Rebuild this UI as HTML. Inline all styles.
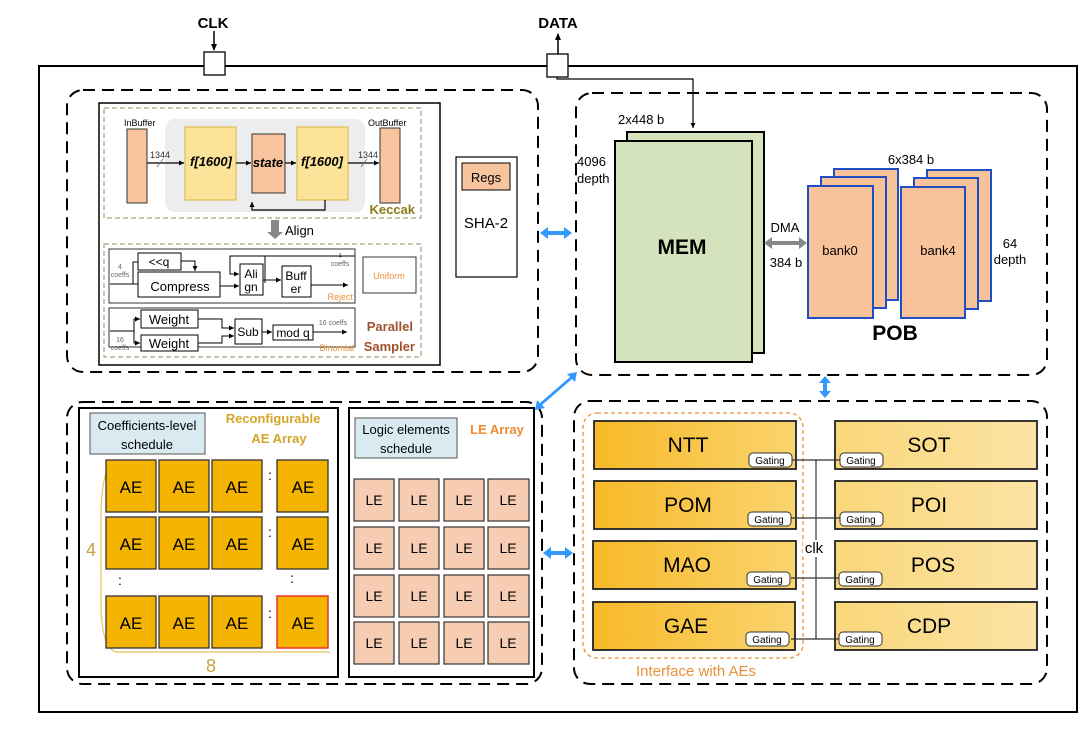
<!DOCTYPE html>
<html><head><meta charset="utf-8"><style>
html,body{margin:0;padding:0;background:#fff;}
svg{display:block;font-family:"Liberation Sans",Arial,sans-serif;}
</style></head><body>
<svg width="1080" height="729" viewBox="0 0 1080 729" xmlns="http://www.w3.org/2000/svg">
<defs>
<marker id="ah" markerWidth="8" markerHeight="8" refX="6" refY="3" orient="auto" markerUnits="userSpaceOnUse"><path d="M0,0 L7,3 L0,6 Z" fill="#000"/></marker>
<marker id="ahs" markerWidth="6" markerHeight="6" refX="5" refY="2.5" orient="auto" markerUnits="userSpaceOnUse"><path d="M0,0 L5,2.5 L0,5 Z" fill="#000"/></marker>
<linearGradient id="gy" x1="0" x2="1"><stop offset="0" stop-color="#F7B928"/><stop offset="1" stop-color="#FAD46E"/></linearGradient>
<linearGradient id="gy2" x1="0" x2="1"><stop offset="0" stop-color="#F9D77A"/><stop offset="1" stop-color="#FCE3A4"/></linearGradient>
</defs>

<!-- outer -->
<rect x="39" y="66" width="1038" height="646" fill="none" stroke="#000" stroke-width="2"/>
<text x="213" y="28" font-size="15" font-weight="bold" text-anchor="middle">CLK</text>
<line x1="214" y1="31" x2="214" y2="50" stroke="#000" stroke-width="1.5" marker-end="url(#ah)"/>
<rect x="204" y="52" width="21" height="23" fill="#fff" stroke="#000" stroke-width="1.3"/>
<text x="558" y="28" font-size="15" font-weight="bold" text-anchor="middle">DATA</text>
<line x1="558" y1="54" x2="558" y2="34" stroke="#000" stroke-width="1.5" marker-end="url(#ah)"/>
<rect x="547" y="54" width="21" height="23" fill="#fff" stroke="#000" stroke-width="1.3"/>
<polyline points="557,77 557,79 693,79 693,128" fill="none" stroke="#000" stroke-width="1.2" marker-end="url(#ahs)"/>

<!-- dashed regions -->
<g fill="none" stroke="#000" stroke-width="2" stroke-dasharray="12,7">
<rect x="67" y="90" width="471" height="282" rx="16"/>
<rect x="576" y="93" width="471" height="282" rx="16"/>
<rect x="67" y="402" width="475" height="282" rx="16"/>
<rect x="574" y="401" width="473" height="283" rx="16"/>
</g>

<!-- blue arrows -->
<g fill="#3399FF">
<path d="M540,233 l8,-6 v4 h16 v-4 l8,6 l-8,6 v-4 h-16 v4 z"/>
<path d="M535,410 l2,-10 l3,3 l30,-26 l-3,-3 l10,-2 l-2,10 l-3,-3 l-30,26 l3,3 z"/>
<path d="M825,376 l6,7 h-4 v8 h4 l-6,7 l-6,-7 h4 v-8 h-4 z"/>
<path d="M543,553 l8,-6 v4 h14 v-4 l8,6 l-8,6 v-4 h-14 v4 z"/>
</g>

<!-- Keccak / sampler -->
<rect x="99" y="103" width="341" height="262" fill="#fff" stroke="#000" stroke-width="1.5"/>
<rect x="104" y="108" width="317" height="110" fill="none" stroke="#9A8A5A" stroke-dasharray="5,3"/>
<rect x="165" y="119" width="200" height="93" rx="10" fill="#EDEDED"/>
<rect x="127" y="129" width="20" height="74" fill="#F7C49E" stroke="#333"/>
<text x="124" y="126" font-size="9">InBuffer</text>
<rect x="185" y="127" width="51" height="73" fill="#FBE39A" stroke="#D9B43A"/>
<rect x="252" y="134" width="33" height="59" fill="#F7C49E" stroke="#333"/>
<rect x="297" y="127" width="51" height="73" fill="#FBE39A" stroke="#D9B43A"/>
<rect x="380" y="128" width="20" height="75" fill="#F7C49E" stroke="#333"/>
<text x="368" y="126" font-size="9">OutBuffer</text>
<text x="211" y="166" font-size="13" font-weight="bold" font-style="italic" text-anchor="middle">f[1600]</text>
<text x="268" y="167" font-size="13" font-weight="bold" font-style="italic" text-anchor="middle">state</text>
<text x="322" y="166" font-size="13" font-weight="bold" font-style="italic" text-anchor="middle">f[1600]</text>
<g stroke="#000" stroke-width="1.2" fill="none">
<line x1="147" y1="163" x2="184" y2="163" marker-end="url(#ahs)"/>
<line x1="236" y1="163" x2="251" y2="163" marker-end="url(#ahs)"/>
<line x1="285" y1="163" x2="296" y2="163" marker-end="url(#ahs)"/>
<line x1="348" y1="163" x2="379" y2="163" marker-end="url(#ahs)"/>
<polyline points="325,200 325,210 252,210 252,202" marker-end="url(#ahs)"/>
<line x1="157" y1="167" x2="163" y2="159" stroke="#666" stroke-width="0.8"/>
<line x1="361" y1="167" x2="367" y2="159" stroke="#666" stroke-width="0.8"/>
</g>
<text x="150" y="158" font-size="9" fill="#333">1344</text>
<text x="358" y="158" font-size="9" fill="#333">1344</text>
<text x="415" y="214" font-size="13" font-weight="bold" fill="#8B7A1A" text-anchor="end">Keccak</text>
<path d="M271,220 h8 v12 h4 l-8,7 l-8,-7 h4 z" fill="#888"/>
<text x="285" y="235" font-size="13">Align</text>

<rect x="104" y="244" width="317" height="113" fill="none" stroke="#9A8A5A" stroke-dasharray="5,3"/>
<rect x="109" y="249" width="246" height="54" fill="#fff" stroke="#333"/>
<rect x="109" y="308" width="246" height="39" fill="#fff" stroke="#333"/>
<rect x="363" y="257" width="53" height="36" fill="#fff" stroke="#333"/>
<text x="389" y="279" font-size="9" fill="#E8913A" text-anchor="middle">Uniform</text>
<g fill="#fff" stroke="#000" stroke-width="1">
<rect x="138" y="253" width="43" height="17"/>
<rect x="138" y="272" width="82" height="25"/>
<rect x="240" y="264" width="23" height="31"/>
<rect x="282" y="266" width="29" height="31"/>
<rect x="141" y="310" width="57" height="18"/>
<rect x="141" y="335" width="57" height="16"/>
<rect x="235" y="319" width="27" height="25"/>
<rect x="273" y="325" width="40" height="15"/>
</g>
<text x="159" y="266" font-size="12" text-anchor="middle">&lt;&lt;q</text>
<text x="180" y="291" font-size="13" text-anchor="middle">Compress</text>
<text x="251" y="278" font-size="12" text-anchor="middle">Ali</text>
<text x="251" y="291" font-size="12" text-anchor="middle">gn</text>
<text x="296" y="280" font-size="12" text-anchor="middle">Buff</text>
<text x="296" y="293" font-size="12" text-anchor="middle">er</text>
<text x="169" y="324" font-size="13" text-anchor="middle">Weight</text>
<text x="169" y="348" font-size="13" text-anchor="middle">Weight</text>
<text x="248" y="336" font-size="12" text-anchor="middle">Sub</text>
<text x="293" y="337" font-size="12" text-anchor="middle">mod q</text>
<g stroke="#000" stroke-width="1" fill="none">
<polyline points="110,284 138,284"/>
<polyline points="133,284 133,262 138,262"/>
<polyline points="181,261 195,261 195,271" marker-end="url(#ahs)"/>
<polyline points="220,286 239,286" marker-end="url(#ahs)"/>
<polyline points="265,283 265,256 355,256 355,256"/>
<polyline points="265,256 230,256 230,274 239,274" marker-end="url(#ahs)"/>
<polyline points="263,280 281,280" marker-end="url(#ahs)"/>
<polyline points="311,285 348,285" marker-end="url(#ahs)"/>
<polyline points="110,331 134,331 134,319 140,319" marker-end="url(#ahs)"/>
<polyline points="134,331 134,343 140,343" marker-end="url(#ahs)"/>
<polyline points="198,319 222,319 222,328 234,328" marker-end="url(#ahs)"/>
<polyline points="198,343 222,343 222,336 234,336" marker-end="url(#ahs)"/>
<polyline points="262,332 272,332" marker-end="url(#ahs)"/>
<polyline points="313,332 347,332" marker-end="url(#ahs)"/>
</g>
<text x="120" y="269" font-size="7" fill="#666" text-anchor="middle">4</text>
<text x="120" y="277" font-size="7" fill="#666" text-anchor="middle">coeffs</text>
<text x="340" y="258" font-size="7" fill="#666" text-anchor="middle">4</text>
<text x="340" y="266" font-size="7" fill="#666" text-anchor="middle">coeffs</text>
<text x="353" y="300" font-size="9" fill="#E8913A" text-anchor="end">Reject</text>
<text x="120" y="342" font-size="7" fill="#666" text-anchor="middle">16</text>
<text x="120" y="350" font-size="7" fill="#666" text-anchor="middle">coeffs</text>
<text x="333" y="325" font-size="7" fill="#666" text-anchor="middle">16 coeffs</text>
<text x="354" y="351" font-size="9" fill="#E8913A" text-anchor="end">Binomial</text>
<text x="413" y="331" font-size="13" font-weight="bold" fill="#A0522D" text-anchor="end">Parallel</text>
<text x="415" y="351" font-size="13" font-weight="bold" fill="#A0522D" text-anchor="end">Sampler</text>

<!-- SHA-2 -->
<rect x="456" y="157" width="61" height="120" fill="#fff" stroke="#000" stroke-width="1.2"/>
<rect x="462" y="163" width="48" height="27" fill="#F7C49E" stroke="#000"/>
<text x="486" y="182" font-size="13" text-anchor="middle">Regs</text>
<text x="486" y="228" font-size="15" text-anchor="middle">SHA-2</text>

<!-- MEM -->
<rect x="627" y="132" width="137" height="221" fill="#D5E2BE" stroke="#000" stroke-width="2"/>
<rect x="615" y="141" width="137" height="221" fill="#D5E2BE" stroke="#000" stroke-width="2"/>
<text x="682" y="254" font-size="21" font-weight="bold" text-anchor="middle">MEM</text>
<text x="618" y="124" font-size="13">2x448 b</text>
<text x="577" y="166" font-size="13">4096</text>
<text x="577" y="183" font-size="13">depth</text>
<path d="M764,243 l8,-6 v4 h27 v-4 l8,6 l-8,6 v-4 h-27 v4 z" fill="#888"/>
<text x="785" y="232" font-size="13" text-anchor="middle">DMA</text>
<text x="786" y="267" font-size="13" text-anchor="middle">384 b</text>
<g fill="#F8C29A" stroke="#1F4FC2" stroke-width="2">
<rect x="834" y="169" width="64" height="131"/>
<rect x="821" y="177" width="65" height="131"/>
<rect x="808" y="186" width="65" height="132"/>
<rect x="927" y="170" width="64" height="131"/>
<rect x="914" y="178" width="64" height="131"/>
<rect x="901" y="187" width="64" height="131"/>
</g>
<text x="840" y="255" font-size="13" text-anchor="middle">bank0</text>
<text x="938" y="255" font-size="13" text-anchor="middle">bank4</text>
<text x="911" y="164" font-size="13" text-anchor="middle">6x384 b</text>
<text x="1010" y="248" font-size="13" text-anchor="middle">64</text>
<text x="1010" y="264" font-size="13" text-anchor="middle">depth</text>
<text x="895" y="340" font-size="21" font-weight="bold" text-anchor="middle">POB</text>

<!-- AE Array -->
<rect x="79" y="408" width="259" height="269" fill="#fff" stroke="#000" stroke-width="2"/>
<rect x="90" y="413" width="115" height="41" fill="#D9EBF0" stroke="#555"/>
<text x="147" y="430" font-size="13" text-anchor="middle">Coefficients-level</text>
<text x="147" y="449" font-size="13" text-anchor="middle">schedule</text>
<text x="273" y="423" font-size="13" font-weight="bold" fill="#D4A628" text-anchor="middle">Reconfigurable</text>
<text x="279" y="443" font-size="13" font-weight="bold" fill="#D4A628" text-anchor="middle">AE Array</text>
<path d="M118,461 Q101,461 101,520 L101,600 Q101,652 118,652 L330,652" fill="none" stroke="#E8C25A" stroke-width="1.2"/>
<g fill="#F5B400" stroke="#333" stroke-width="1.3">
<rect x="106" y="460" width="50" height="52"/><rect x="159" y="460" width="50" height="52"/><rect x="212" y="460" width="50" height="52"/><rect x="277" y="460" width="51" height="52"/>
<rect x="106" y="517" width="50" height="52"/><rect x="159" y="517" width="50" height="52"/><rect x="212" y="517" width="50" height="52"/><rect x="277" y="517" width="51" height="52"/>
<rect x="106" y="596" width="50" height="52"/><rect x="159" y="596" width="50" height="52"/><rect x="212" y="596" width="50" height="52"/>
</g>
<rect x="277" y="596" width="51" height="52" fill="#F5B400" stroke="#E8332A" stroke-width="1.5"/>
<g font-size="17" text-anchor="middle">
<text x="131" y="493">AE</text><text x="184" y="493">AE</text><text x="237" y="493">AE</text><text x="303" y="493">AE</text>
<text x="131" y="550">AE</text><text x="184" y="550">AE</text><text x="237" y="550">AE</text><text x="303" y="550">AE</text>
<text x="131" y="629">AE</text><text x="184" y="629">AE</text><text x="237" y="629">AE</text><text x="303" y="629">AE</text>
</g>
<g font-size="14" text-anchor="middle">
<text x="270" y="480">:</text><text x="270" y="537">:</text><text x="270" y="618">:</text>
<text x="120" y="585">:</text><text x="292" y="583">:</text>
</g>
<text x="91" y="556" font-size="18" fill="#C9A040" text-anchor="middle">4</text>
<text x="211" y="672" font-size="18" fill="#C9A040" text-anchor="middle">8</text>

<!-- LE Array -->
<rect x="349" y="408" width="185" height="269" fill="#fff" stroke="#000" stroke-width="2"/>
<rect x="355" y="418" width="102" height="40" fill="#D9EBF0" stroke="#555"/>
<text x="406" y="434" font-size="13" text-anchor="middle">Logic elements</text>
<text x="406" y="453" font-size="13" text-anchor="middle">schedule</text>
<text x="497" y="434" font-size="13" font-weight="bold" fill="#F08A30" text-anchor="middle">LE Array</text>
<g fill="#F6CDB3" stroke="#333" stroke-width="1.2">
<rect x="354" y="479" width="40" height="42"/><rect x="399" y="479" width="40" height="42"/><rect x="444" y="479" width="40" height="42"/><rect x="488" y="479" width="41" height="42"/>
<rect x="354" y="527" width="40" height="42"/><rect x="399" y="527" width="40" height="42"/><rect x="444" y="527" width="40" height="42"/><rect x="488" y="527" width="41" height="42"/>
<rect x="354" y="575" width="40" height="42"/><rect x="399" y="575" width="40" height="42"/><rect x="444" y="575" width="40" height="42"/><rect x="488" y="575" width="41" height="42"/>
<rect x="354" y="622" width="40" height="42"/><rect x="399" y="622" width="40" height="42"/><rect x="444" y="622" width="40" height="42"/><rect x="488" y="622" width="41" height="42"/>
</g>
<g font-size="14" text-anchor="middle">
<text x="374" y="505">LE</text><text x="419" y="505">LE</text><text x="464" y="505">LE</text><text x="508" y="505">LE</text>
<text x="374" y="553">LE</text><text x="419" y="553">LE</text><text x="464" y="553">LE</text><text x="508" y="553">LE</text>
<text x="374" y="601">LE</text><text x="419" y="601">LE</text><text x="464" y="601">LE</text><text x="508" y="601">LE</text>
<text x="374" y="648">LE</text><text x="419" y="648">LE</text><text x="464" y="648">LE</text><text x="508" y="648">LE</text>
</g>

<!-- bottom right -->
<rect x="583" y="413" width="220" height="245" rx="14" fill="none" stroke="#E8913A" stroke-width="1.3" stroke-dasharray="4,3"/>
<g fill="url(#gy)" stroke="#222" stroke-width="1.8">
<rect x="594" y="421" width="202" height="48"/>
<rect x="594" y="481" width="202" height="48"/>
<rect x="593" y="541" width="203" height="48"/>
<rect x="593" y="602" width="202" height="48"/>
</g>
<g fill="url(#gy2)" stroke="#222" stroke-width="1.8">
<rect x="835" y="421" width="202" height="48"/>
<rect x="835" y="481" width="202" height="48"/>
<rect x="835" y="541" width="202" height="48"/>
<rect x="835" y="602" width="202" height="48"/>
</g>
<g stroke="#333" stroke-width="1.2" fill="none">
<line x1="816" y1="460" x2="816" y2="639"/>
<line x1="791" y1="460" x2="840" y2="460"/>
<line x1="791" y1="518" x2="840" y2="518"/>
<line x1="791" y1="578" x2="840" y2="578"/>
<line x1="791" y1="639" x2="840" y2="639"/>
</g>
<g font-size="21" text-anchor="middle">
<text x="688" y="452">NTT</text><text x="688" y="512">POM</text><text x="687" y="572">MAO</text><text x="686" y="633">GAE</text>
<text x="929" y="452">SOT</text><text x="929" y="512">POI</text><text x="933" y="572">POS</text><text x="929" y="633">CDP</text>
</g>
<g fill="#fff" stroke="#333" stroke-width="1">
<rect x="749" y="453" width="43" height="14" rx="4"/><rect x="748" y="512" width="43" height="14" rx="4"/><rect x="747" y="572" width="43" height="14" rx="4"/><rect x="746" y="632" width="43" height="14" rx="4"/>
<rect x="840" y="453" width="43" height="14" rx="4"/><rect x="840" y="512" width="43" height="14" rx="4"/><rect x="839" y="572" width="43" height="14" rx="4"/><rect x="839" y="632" width="43" height="14" rx="4"/>
</g>
<g font-size="10" text-anchor="middle">
<text x="770" y="464">Gating</text><text x="769" y="523">Gating</text><text x="768" y="583">Gating</text><text x="767" y="643">Gating</text>
<text x="861" y="464">Gating</text><text x="861" y="523">Gating</text><text x="860" y="583">Gating</text><text x="860" y="643">Gating</text>
</g>
<rect x="803" y="540" width="24" height="17" fill="#fff"/>
<text x="814" y="553" font-size="15" text-anchor="middle">clk</text>
<text x="696" y="676" font-size="15" fill="#E8913A" text-anchor="middle">Interface with AEs</text>
</svg>
</body></html>
